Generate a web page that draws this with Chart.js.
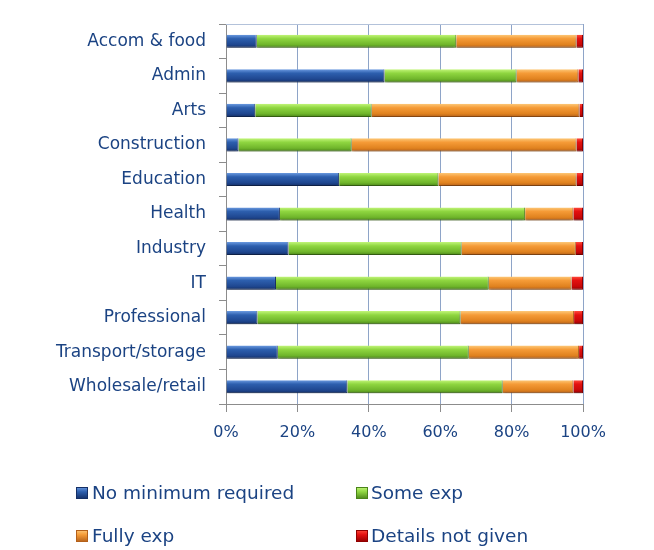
<!DOCTYPE html>
<html>
<head>
<meta charset="utf-8">
<script src="https://cdn.jsdelivr.net/npm/chart.js@4/dist/chart.umd.min.js"></script>
<style>
  html, body { margin: 0; padding: 0; background: #ffffff; }
  #wrap { width: 654px; height: 550px; position: relative; }
</style>
</head>
<body>
<div id="wrap"><canvas id="c" width="654" height="550"></canvas></div>
<script>
const categories = ['Accom & food', 'Admin', 'Arts', 'Construction', 'Education', 'Health', 'Industry', 'IT', 'Professional', 'Transport/storage', 'Wholesale/retail'];
const seriesNames = ['No minimum required', 'Some exp', 'Fully exp', 'Details not given'];
const noMinimum = [8.6, 44.4, 8.2, 3.5, 31.7, 15.1, 17.5, 14.0, 8.8, 14.5, 34.0];
const someExp   = [55.9, 37.0, 32.6, 31.7, 27.8, 68.7, 48.5, 59.6, 56.9, 53.5, 43.5];
const fullyExp  = [33.7, 17.3, 58.2, 63.0, 38.7, 13.5, 32.0, 23.2, 31.8, 30.9, 19.8];
const notGiven  = [1.8, 1.3, 1.0, 1.8, 1.8, 2.7, 2.0, 3.2, 2.5, 1.1, 2.7];
const xTickValues = [0, 20, 40, 60, 80, 100];

const TEXT = '#1B4383';
const FONT = "'DejaVu Sans', sans-serif";
const BAR_FRACTION = 0.38;

const palettes = [
  ['#6b9ae0', '#2d5fae', '#1f4790', '#142f66'],
  ['#c2f57a', '#8fd640', '#6fb52b', '#4a8419'],
  ['#fdc878', '#f59b37', '#e0821f', '#b4601a'],
  ['#ff4a3a', '#e41010', '#c80808', '#900000']
];
const edgeColors = ['#142f66', '#4a8419', '#b4601a', '#900000'];

function barGradient(c, p) {
  const chart = c.chart;
  const ys = chart.scales && chart.scales.y;
  if (!ys || c.type !== 'data' || !ys.height) return p[1];
  const yc = ys.getPixelForValue(c.dataIndex);
  const half = ys.height / categories.length * BAR_FRACTION / 2;
  const g = chart.ctx.createLinearGradient(0, yc - half, 0, yc + half);
  g.addColorStop(0, p[0]);
  g.addColorStop(0.3, p[1]);
  g.addColorStop(0.75, p[2]);
  g.addColorStop(1, p[3]);
  return g;
}

const seriesData = [noMinimum, someExp, fullyExp, notGiven];
const datasets = seriesData.map((d, i) => ({
  label: seriesNames[i],
  data: d,
  backgroundColor: (c) => barGradient(c, palettes[i]),
  borderColor: edgeColors[i],
  borderWidth: { left: 0, right: 1, top: 0, bottom: 1 },
  borderSkipped: false,
  barPercentage: BAR_FRACTION,
  categoryPercentage: 1.0
}));

const extras = {
  id: 'extras',
  beforeDatasetsDraw(chart) {
    const ctx = chart.ctx;
    ctx.save();
    ctx.shadowColor = 'rgba(0,0,0,0.32)';
    ctx.shadowOffsetX = 0;
    ctx.shadowOffsetY = 3;
    ctx.shadowBlur = 3;
  },
  afterDatasetsDraw(chart) {
    chart.ctx.restore();
  },
  afterDraw(chart) {
    const ctx = chart.ctx;
    const a = chart.chartArea;
    ctx.save();
    ctx.strokeStyle = '#b3c2da';
    ctx.lineWidth = 1;
    ctx.beginPath();
    ctx.moveTo(a.left, Math.round(a.top) + 0.5);
    ctx.lineTo(a.right, Math.round(a.top) + 0.5);
    ctx.stroke();
    const pos = [[76, 487, 92, 498.5], [356, 487, 371, 498.5], [76, 530, 92, 541.5], [356, 530, 371, 541.5]];
    chart.data.datasets.forEach((ds, i) => {
      const [bx, by, tx, ty] = pos[i];
      const p = palettes[i];
      const g = ctx.createLinearGradient(0, by, 0, by + 12);
      g.addColorStop(0, p[0]);
      g.addColorStop(0.4, p[1]);
      g.addColorStop(1, p[3]);
      ctx.fillStyle = g;
      ctx.fillRect(bx, by, 12, 12);
      ctx.strokeStyle = edgeColors[i];
      ctx.strokeRect(bx + 0.5, by + 0.5, 11, 11);
      ctx.fillStyle = TEXT;
      ctx.font = "18.5px " + FONT;
      ctx.textBaseline = 'alphabetic';
      ctx.textAlign = 'left';
      ctx.fillText(ds.label, tx, ty);
    });
    ctx.restore();
  }
};

new Chart(document.getElementById('c'), {
  type: 'bar',
  data: { labels: categories, datasets: datasets },
  options: {
    indexAxis: 'y',
    responsive: false,
    animation: false,
    layout: { padding: { top: 24, right: 71, bottom: 0, left: 0 } },
    plugins: {
      legend: { display: false },
      title: { display: false },
      tooltip: { enabled: false }
    },
    scales: {
      x: {
        stacked: true,
        min: 0,
        max: 100,
        afterBuildTicks: (s) => { s.ticks = xTickValues.map(v => ({ value: v })); },
        afterFit: (s) => { s.height = 146; },
        ticks: {
          callback: (v) => v + '%',
          color: TEXT,
          font: { family: FONT, size: 16 },
          padding: 11,
          maxRotation: 0
        },
        grid: { color: '#8ea4c8', lineWidth: 1, tickLength: 8, tickColor: '#8c8c8c' },
        border: { color: '#8c8c8c', width: 1 }
      },
      y: {
        stacked: true,
        afterFit: (s) => { s.width = 226; },
        ticks: {
          color: TEXT,
          font: { family: FONT, size: 17 },
          padding: 13
        },
        grid: { drawOnChartArea: false, drawTicks: true, tickLength: 7, color: '#8c8c8c', offset: true },
        border: { color: '#8c8c8c', width: 1 }
      }
    }
  },
  plugins: [extras]
});
</script>
</body>
</html>
